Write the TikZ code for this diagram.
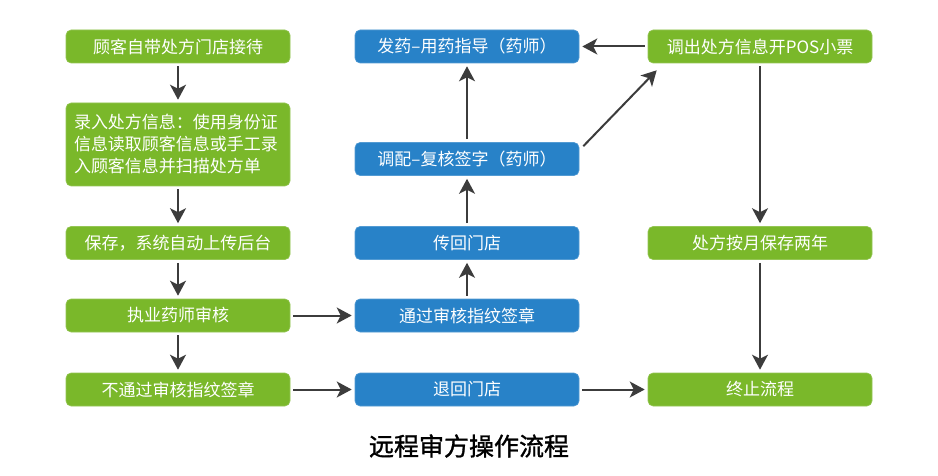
\documentclass[tikz,border=0pt]{standalone}
\usepackage{fontspec}
\setmainfont{Noto Sans CJK SC}
\newfontfamily\titlefont[FakeBold=1.2]{Noto Sans CJK SC}
\usetikzlibrary{arrows.meta,calc}
\definecolor{boxgreen}{RGB}{122,184,42}
\definecolor{boxblue}{RGB}{40,130,200}
\definecolor{arrowgray}{RGB}{60,60,60}
\begin{document}
\begin{tikzpicture}[x=1pt,y=-1pt,
  box/.style={rounded corners=5pt, minimum width=224pt, minimum height=33pt,
    inner sep=0pt, text=white, font=\fontsize{17pt}{22pt}\selectfont},
  gbox/.style={box, fill=boxgreen, draw=boxgreen!80!white, line width=0.6pt},
  bbox/.style={box, fill=boxblue, draw=boxblue!80!white, line width=0.6pt},
  arr/.style={draw=arrowgray, line width=2pt,
    -{Stealth[length=15pt,width=16pt,inset=4pt]},
    shorten <=3pt, shorten >=3pt}]
\useasboundingbox (0,0) rectangle (938,476);
\fill[white] (0,0) rectangle (938,476);
% column 1
\node[gbox] (g1) at (178,46.5) {顾客自带处方门店接待};
\node[gbox, minimum height=83pt, text width=208pt, align=left] (g2) at (178,144.5)
  {录入处方信息：使用身份证\\信息读取顾客信息或手工录\\入顾客信息并扫描处方单};
\node[gbox] (g3) at (178,243) {保存，系统自动上传后台};
\node[gbox] (g4) at (178,315.5) {执业药师审核};
\node[gbox] (g5) at (178,389.5) {不通过审核指纹签章};
% column 2
\node[bbox] (b1) at (467,46.5) {发药–用药指导（药师）};
\node[bbox] (b2) at (467,159) {调配–复核签字（药师）};
\node[bbox] (b3) at (467,243) {传回门店};
\node[bbox] (b4) at (467,315.5) {通过审核指纹签章};
\node[bbox] (b5) at (467,389.5) {退回门店};
% column 3
\node[gbox] (r1) at (760,46.5) {调出处方信息开POS小票};
\node[gbox] (r2) at (760,243) {处方按月保存两年};
\node[gbox] (r3) at (760,389.5) {终止流程};
% title
\node[font=\titlefont\fontsize{25pt}{30pt}\selectfont, text=black] (title) at (469,446) {远程审方操作流程};
% arrows
\draw[arr] (g1) -- (g2);
\draw[arr] (g2) -- (g3);
\draw[arr] (g3) -- (g4);
\draw[arr] (g4) -- (g5);
\draw[arr] (g4) -- (b4);
\draw[arr] (g5) -- (b5);
\draw[arr] (b5) -- (r3);
\draw[arr] (b4) -- (b3);
\draw[arr] (b3) -- (b2);
\draw[arr] (b2) -- (b1);
\coordinate (dstart) at ($(b2.north east)+(4,4)$);
\coordinate (dend) at ($(r1.south west)+(9,7)$);
\draw[arr, shorten <=0pt, shorten >=0pt] (dstart) -- (dend);
\draw[arr] (r1) -- (b1);
\draw[arr] (r1) -- (r2);
\draw[arr] (r2) -- (r3);
\end{tikzpicture}
\end{document}
